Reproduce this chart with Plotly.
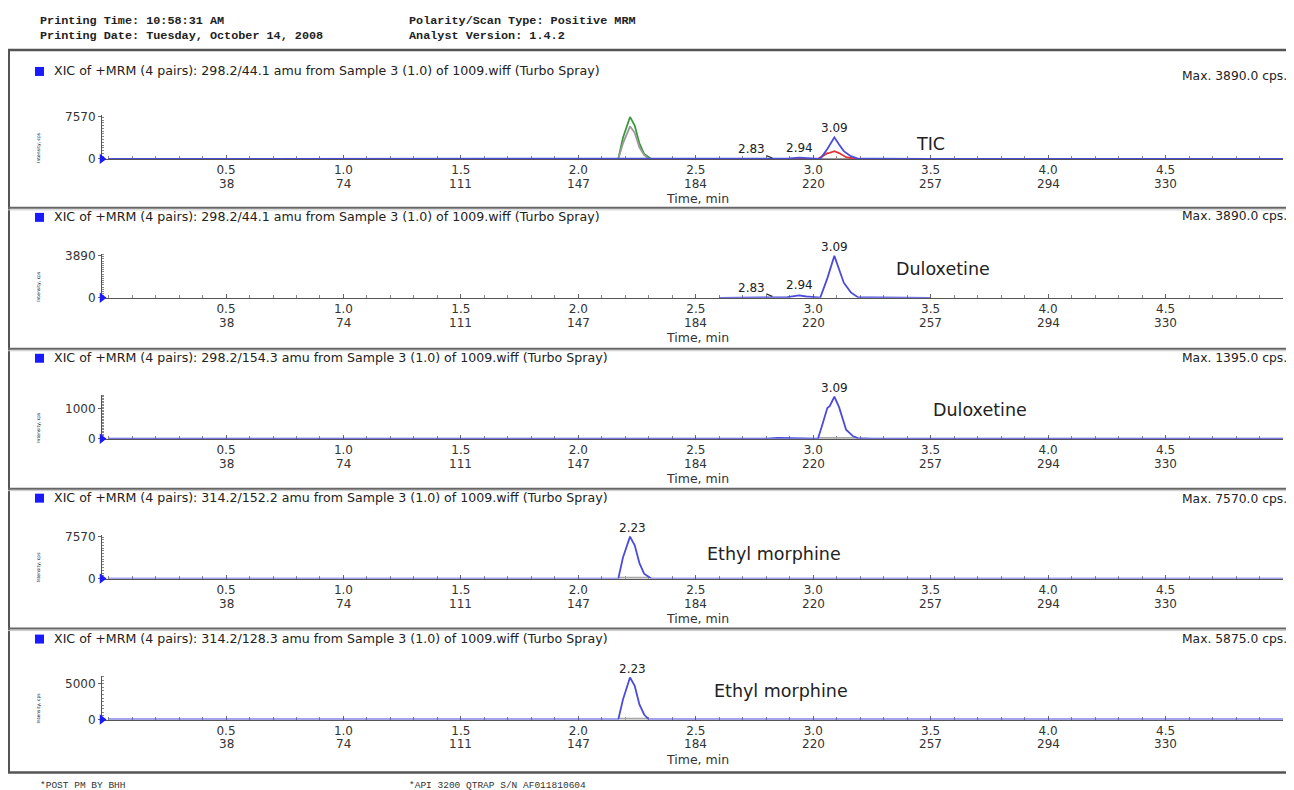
import plotly.graph_objects as go

# ---------------- data ----------------
# XIC 298.2/44.1 (Duloxetine)
t_dlx1 = [0.00, 1.70, 1.74, 1.78, 2.60, 2.70, 2.79, 2.83, 2.86, 2.89, 2.94, 2.97,
          3.03, 3.06, 3.09, 3.11, 3.13, 3.16, 3.19, 3.25, 3.50, 5.00]
i_dlx1 = [0, 0, 40, 0, 0, 20, 30, 90, 30, 60, 230, 120,
          20, 1800, 3890, 2600, 1400, 500, 60, 30, 0, 0]
# XIC 298.2/154.3 (Duloxetine)
t_dlx2 = [0.00, 2.80, 2.85, 2.95, 3.02, 3.04, 3.06, 3.07, 3.09, 3.11, 3.14, 3.17, 3.19, 3.25, 5.00]
i_dlx2 = [0, 0, 30, 20, 0, 500, 1020, 1080, 1395, 1050, 300, 80, 20, 0, 0]
# XIC 314.2/152.2 (Ethyl morphine)
t_em1 = [0.00, 2.17, 2.19, 2.22, 2.24, 2.26, 2.28, 2.31, 5.00]
i_em1 = [0, 0, 3800, 7570, 6000, 2800, 900, 0, 0]
# XIC 314.2/128.3 (Ethyl morphine)
t_em2 = [0.00, 1.75, 1.80, 1.85, 2.17, 2.19, 2.22, 2.24, 2.26, 2.28, 2.30, 5.00]
i_em2 = [0, 0, 30, 0, 0, 2800, 5875, 4700, 2100, 700, 0, 0]

tick_times = [0.5, 1.0, 1.5, 2.0, 2.5, 3.0, 3.5, 4.0, 4.5]
tick_scans = [38, 74, 111, 147, 184, 220, 257, 294, 330]

panel_titles = [
    "XIC of +MRM (4 pairs): 298.2/44.1 amu from Sample 3 (1.0) of 1009.wiff (Turbo Spray)",
    "XIC of +MRM (4 pairs): 298.2/44.1 amu from Sample 3 (1.0) of 1009.wiff (Turbo Spray)",
    "XIC of +MRM (4 pairs): 298.2/154.3 amu from Sample 3 (1.0) of 1009.wiff (Turbo Spray)",
    "XIC of +MRM (4 pairs): 314.2/152.2 amu from Sample 3 (1.0) of 1009.wiff (Turbo Spray)",
    "XIC of +MRM (4 pairs): 314.2/128.3 amu from Sample 3 (1.0) of 1009.wiff (Turbo Spray)",
]
panel_max = [3890.0, 3890.0, 1395.0, 7570.0, 5875.0]
axis_max = [7570, 3890, 1395, 7570, 5875]
ytick_label = [7570, 3890, 1000, 7570, 5000]
compound = ["TIC", "Duloxetine", "Duloxetine", "Ethyl morphine", "Ethyl morphine"]
peak_rt = [3.09, 3.09, 3.09, 2.23, 2.23]
peak_windows = [None, None, (3.02, 3.19), (2.17, 2.30), (2.17, 2.30)]
minor_peaks = [[2.83, 2.94], [2.83, 2.94], [], [], []]

header_left = ["Printing Time: 10:58:31 AM", "Printing Date: Tuesday, October 14, 2008"]
header_right = ["Polarity/Scan Type: Positive MRM", "Analyst Version: 1.4.2"]
footer_left = "*POST PM BY BHH"
footer_right = "*API 3200 QTRAP S/N AF011810604"

# ---------------- layout helpers (target picture pixel coords) ----------------
OFF = 8
W, H = 1286, 790
VS = 0.9855   # empirical vertical mapping of the page into the picture
def px(x): return (x - OFF) / W
def py(y): return 1 - max(0.0, (y - 12)) / VS / H

y_zero = [158, 297, 438, 578, 719]
title_y = [70, 216, 357, 497, 638]
max_y = [75, 215, 357, 498, 638]
sep_y = [207, 348, 488, 628]
comp_pos = [(930, 143), (943, 268), (980, 409), (774, 553), (781, 690)]
X0, X1 = 102, 1283
XR = [-0.028, 5.0]

FONT = "DejaVu Sans, Liberation Sans, Arial"
BLUE = "#4b4bdc"
fig = go.Figure()
annotations = []
shapes = []

def ax_names(k):
    return ("x" if k == 0 else f"x{k+1}", "y" if k == 0 else f"y{k+1}")

def interp_val(ts, vs, t):
    for j in range(len(ts) - 1):
        if ts[j] <= t <= ts[j + 1]:
            if ts[j + 1] == ts[j]:
                return vs[j]
            f = (t - ts[j]) / (ts[j + 1] - ts[j])
            return vs[j] + f * (vs[j + 1] - vs[j])
    return 0

panel_series = [
    [(t_em1, i_em1, "#3c9a3c"), (t_em2, i_em2, "#9a9a9a"), (t_dlx2, i_dlx2, "#e03535"), (t_dlx1, i_dlx1, BLUE)],
    [([t for t in t_dlx1 if 2.6 <= t <= 3.5], [v for t, v in zip(t_dlx1, i_dlx1) if 2.6 <= t <= 3.5], BLUE)],
    [(t_dlx2, i_dlx2, BLUE)],
    [(t_em1, i_em1, BLUE)],
    [(t_em2, i_em2, BLUE)],
]
peak_source = [(t_dlx1, i_dlx1), (t_dlx1, i_dlx1), (t_dlx2, i_dlx2), (t_em1, i_em1), (t_em2, i_em2)]

for k in range(5):
    xa, ya = ax_names(k)
    if peak_windows[k]:
        a, b = peak_windows[k]
        fig.add_trace(go.Scatter(x=[a, b], y=[0, 0], mode="lines", xaxis=xa, yaxis=ya,
                                 line=dict(color="#a8a8a8", width=3.5), showlegend=False, hoverinfo="skip"))
    for ts, vs, col in panel_series[k]:
        fig.add_trace(go.Scatter(x=ts, y=vs, mode="lines", xaxis=xa, yaxis=ya,
                                 line=dict(color=col, width=1.8), showlegend=False))
    fig.add_trace(go.Scatter(x=[XR[0]], y=[0], mode="markers", xaxis=xa, yaxis=ya, cliponaxis=False,
                             marker=dict(symbol="triangle-right", size=9, color="#1a1aff"),
                             showlegend=False, hoverinfo="skip"))

    top = y_zero[k] - 44
    xkey = "xaxis" if k == 0 else f"xaxis{k+1}"
    ykey = "yaxis" if k == 0 else f"yaxis{k+1}"
    fig.layout[xkey] = dict(
        domain=[px(X0), px(X1)], range=XR, anchor=ya, layer="below traces",
        tickvals=tick_times, ticktext=[f"{t:.1f}" for t in tick_times],
        ticks="inside", ticklen=4, tickcolor="#666", showline=True, linecolor="#555", linewidth=1,
        showgrid=False, zeroline=False, tickfont=dict(family=FONT, size=12, color="#333"),
        minor=dict(dtick=0.1, tick0=0, ticks="inside", ticklen=3, tickcolor="#888"),
        fixedrange=True,
    )
    fig.layout[ykey] = dict(
        domain=[py(y_zero[k]), py(top)], range=[0, axis_max[k] * 44 / 42], anchor=xa, layer="below traces",
        tickvals=[0, ytick_label[k]], ticktext=["0", str(ytick_label[k])],
        ticks="outside", ticklen=3, tickcolor="#666", showline=True, linecolor="#555", linewidth=1,
        showgrid=False, zeroline=False, tickfont=dict(family=FONT, size=12, color="#333"),
        minor=dict(nticks=6, ticks="inside", ticklen=2, tickcolor="#888"),
        fixedrange=True,
    )

    for t, s in zip(tick_times, tick_scans):
        annotations.append(dict(text=str(s), xref=xa, yref="paper", x=t, y=py(y_zero[k] + 25),
                                xanchor="center", yanchor="middle", showarrow=False,
                                font=dict(family=FONT, size=12, color="#333")))
    shapes.append(dict(type="rect", xref="paper", yref="paper",
                       x0=px(35), x1=px(44), y0=py(title_y[k] + 5), y1=py(title_y[k] - 4),
                       fillcolor="#1a1aff", line=dict(width=0)))
    annotations.append(dict(text=panel_titles[k], xref="paper", yref="paper", x=px(52), y=py(title_y[k]),
                            xanchor="left", yanchor="middle", showarrow=False,
                            font=dict(family=FONT, size=12.6, color="#222")))
    annotations.append(dict(text=f"Max. {panel_max[k]:.1f} cps.", xref="paper", yref="paper",
                            x=px(1289), y=py(max_y[k]), xanchor="right", yanchor="middle",
                            showarrow=False, font=dict(family=FONT, size=12.3, color="#222")))
    annotations.append(dict(text="Time, min", xref="paper", yref="paper", x=px(697), y=py(y_zero[k] + 40),
                            xanchor="center", yanchor="middle", showarrow=False,
                            font=dict(family=FONT, size=12.5, color="#333")))
    annotations.append(dict(text="Intensity, cps", xref="paper", yref="paper", x=px(39), y=py(y_zero[k] - 12),
                            xanchor="center", yanchor="middle", showarrow=False, textangle=-90,
                            font=dict(family=FONT, size=4.5, color="#000")))
    cx, cy = comp_pos[k]
    annotations.append(dict(text=compound[k], xref="paper", yref="paper", x=px(cx), y=py(cy),
                            xanchor="center", yanchor="middle", showarrow=False,
                            font=dict(family=FONT, size=17.5, color="#222")))
    ts, vs = peak_source[k]
    pv = max(vs)
    annotations.append(dict(text=f"{peak_rt[k]:.2f}", xref=xa, yref=ya, x=peak_rt[k], y=pv,
                            xanchor="center", yanchor="bottom", yshift=0, showarrow=False,
                            font=dict(family=FONT, size=12, color="#222")))
    for mp in minor_peaks[k]:
        v = interp_val(t_dlx1, i_dlx1, mp)
        if mp == 2.83:
            annotations.append(dict(text=f"{mp:.2f}", xref=xa, yref=ya, x=mp, y=v,
                                    showarrow=True, arrowhead=0, arrowwidth=1.3, arrowcolor="#333",
                                    ax=-22, ay=-9, standoff=1,
                                    font=dict(family=FONT, size=12, color="#222")))
        else:
            annotations.append(dict(text=f"{mp:.2f}", xref=xa, yref=ya, x=mp, y=v,
                                    xanchor="center", yanchor="bottom", yshift=1, showarrow=False,
                                    font=dict(family=FONT, size=12, color="#222")))

# frame
shapes.append(dict(type="line", xref="paper", yref="paper", x0=px(8), x1=1, y0=py(49), y1=py(49),
                   line=dict(color="#555", width=2.5)))
shapes.append(dict(type="line", xref="paper", yref="paper", x0=px(8), x1=1, y0=py(772), y1=py(772),
                   line=dict(color="#555", width=2.5)))
shapes.append(dict(type="line", xref="paper", yref="paper", x0=px(9), x1=px(9), y0=py(49), y1=py(772),
                   line=dict(color="#555", width=2)))
for s in sep_y:
    shapes.append(dict(type="line", xref="paper", yref="paper", x0=px(8), x1=1, y0=py(s), y1=py(s),
                       line=dict(color="#666", width=2)))
    shapes.append(dict(type="line", xref="paper", yref="paper", x0=px(8), x1=1, y0=py(s + 2), y1=py(s + 2),
                       line=dict(color="#c8c8c8", width=1)))

# header / footer
mono = dict(family="Liberation Mono, Courier New, monospace", size=11.8, color="#222")
for lines, x in [(header_left, 39), (header_right, 408)]:
    annotations.append(dict(text="<br>".join(f"<b>{s}</b>" for s in lines), xref="paper", yref="paper",
                            x=px(x), y=1, xanchor="left", yanchor="top", align="left",
                            showarrow=False, font=mono, borderpad=0))
foot = dict(family="Liberation Mono, Courier New, monospace", size=9.5, color="#333")
for txt, x in [(footer_left, 38), (footer_right, 407)]:
    annotations.append(dict(text=txt, xref="paper", yref="paper", x=px(x), y=py(785),
                            xanchor="left", yanchor="middle", showarrow=False, font=foot))

fig.update_layout(width=W, height=H, autosize=False, margin=dict(l=0, r=0, t=0, b=0),
                  paper_bgcolor="white", plot_bgcolor="white", showlegend=False,
                  annotations=annotations, shapes=shapes)
fig.write_html("out.html")
